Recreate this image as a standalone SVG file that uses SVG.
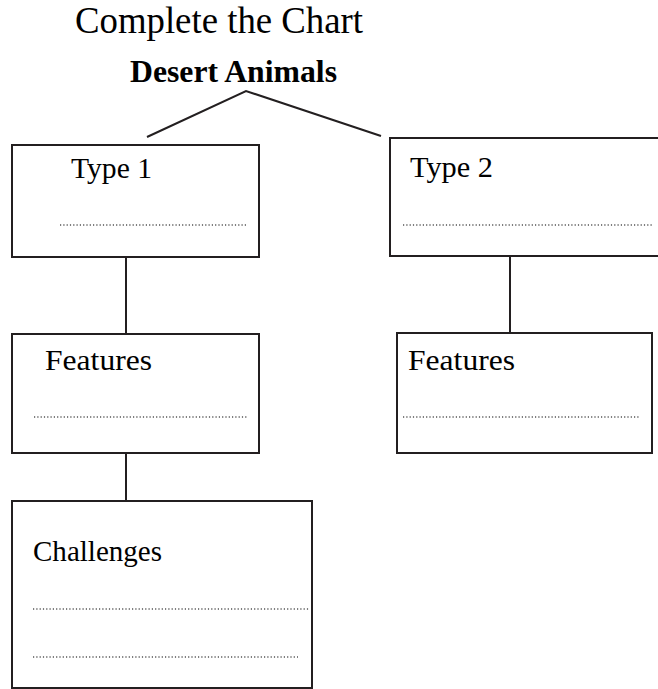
<svg xmlns="http://www.w3.org/2000/svg" width="658" height="689" viewBox="0 0 658 689">
<style>
.box{fill:#fff;stroke:#231f20;stroke-width:2}
.con{stroke:#231f20;stroke-width:2;fill:none}
.dot{stroke:#000;stroke-width:1.2;stroke-dasharray:1.2 2.1;fill:none}
.t{fill:#000}
.lbl{font-size:29px}
</style>
<rect width="658" height="689" fill="#fff"/>
<text class="t" font-family="'Liberation Serif', 'Tinos', 'Times New Roman', 'DejaVu Serif', serif" x="75" y="33" font-size="37" textLength="288" lengthAdjust="spacingAndGlyphs">Complete the Chart</text>
<g id="root">
<text class="t" font-family="'Liberation Serif', 'Tinos', 'Times New Roman', 'DejaVu Serif', serif" x="130" y="82" font-size="31" font-weight="bold" textLength="207" lengthAdjust="spacingAndGlyphs">Desert Animals</text>
</g>
<g id="connectors">
<polyline class="con" points="147,137 246,91 381,136"/>
<line class="con" x1="126" y1="257" x2="126" y2="334"/>
<line class="con" x1="510" y1="256" x2="510" y2="333"/>
<line class="con" x1="126" y1="453" x2="126" y2="501"/>
</g>
<g id="type1">
<rect class="box" x="12" y="145" width="247" height="112"/>
<text class="t lbl" font-family="'Liberation Serif', 'Tinos', 'Times New Roman', 'DejaVu Serif', serif" x="71" y="178" textLength="81" lengthAdjust="spacingAndGlyphs">Type 1</text>
<line class="dot" x1="60" y1="225" x2="248" y2="225"/>
</g>
<g id="type2">
<rect class="box" x="390" y="138" width="280" height="118"/>
<text class="t lbl" font-family="'Liberation Serif', 'Tinos', 'Times New Roman', 'DejaVu Serif', serif" x="410" y="177" textLength="83" lengthAdjust="spacingAndGlyphs">Type 2</text>
<line class="dot" x1="403" y1="225" x2="652" y2="225"/>
</g>
<g id="features1">
<rect class="box" x="12" y="334" width="247" height="119"/>
<text class="t lbl" font-family="'Liberation Serif', 'Tinos', 'Times New Roman', 'DejaVu Serif', serif" x="45" y="370" textLength="107" lengthAdjust="spacingAndGlyphs">Features</text>
<line class="dot" x1="34" y1="417" x2="248" y2="417"/>
</g>
<g id="features2">
<rect class="box" x="397" y="333" width="255" height="120"/>
<text class="t lbl" font-family="'Liberation Serif', 'Tinos', 'Times New Roman', 'DejaVu Serif', serif" x="408" y="370" textLength="107" lengthAdjust="spacingAndGlyphs">Features</text>
<line class="dot" x1="403" y1="417" x2="640" y2="417"/>
</g>
<g id="challenges">
<rect class="box" x="12" y="501" width="300" height="187"/>
<text class="t lbl" font-family="'Liberation Serif', 'Tinos', 'Times New Roman', 'DejaVu Serif', serif" x="33" y="561" textLength="129" lengthAdjust="spacingAndGlyphs">Challenges</text>
<line class="dot" x1="33" y1="609" x2="310" y2="609"/>
<line class="dot" x1="33" y1="657" x2="298" y2="657"/>
</g>
</svg>
